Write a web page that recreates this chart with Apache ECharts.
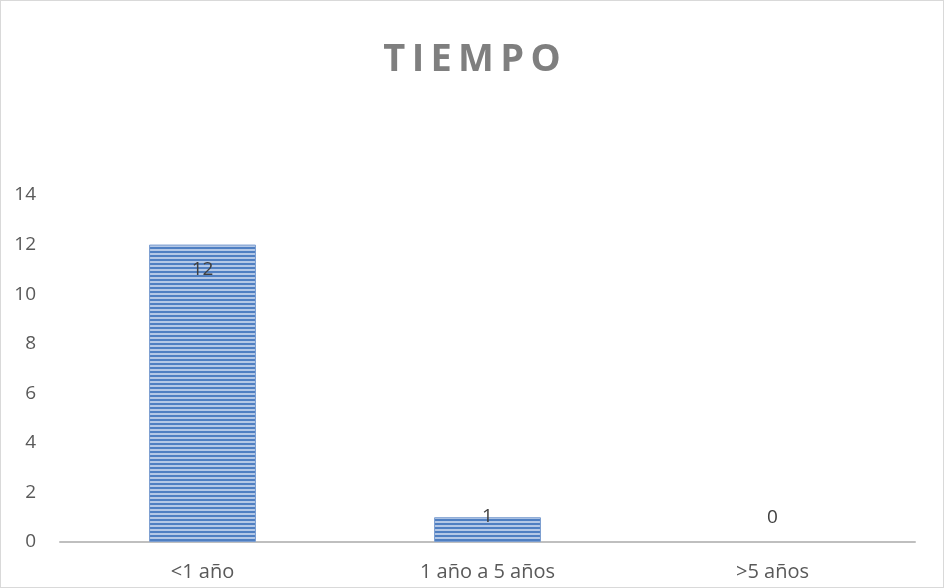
<!DOCTYPE html>
<html>
<head>
<meta charset="utf-8">
<script src="https://cdn.jsdelivr.net/npm/echarts@6/dist/echarts.min.js"></script>
<style>
  html, body { margin: 0; padding: 0; background: #fff; }
  #chart { width: 942px; height: 586px; border: 1px solid #d9d9d9; }
</style>
</head>
<body>
<div id="chart"></div>
<script>
const categories = ['<1 año', '1 año a 5 años', '>5 años']
const values = [12, 1, 0]
const yTicks = [0, 2, 4, 6, 8, 10, 12, 14]

// horizontal stripe fill like the Excel pattern
function stripes() {
  const c = document.createElement('canvas')
  c.width = 4
  c.height = 4
  const ctx = c.getContext('2d')
  ctx.fillStyle = '#b4c8e6'
  ctx.fillRect(0, 0, 4, 4)
  ctx.fillStyle = '#4f7fc2'
  ctx.fillRect(0, 2, 4, 2)
  return c
}

const labelTweaks = [
  { position: 'insideTop', distance: 16 },
  { position: 'top', offset: [0, 14] },
  { position: 'top', offset: [0, -10] },
]

const font = 'Open Sans'
const chart = echarts.init(document.getElementById('chart'))
chart.setOption({
  animation: false,
  title: {
    text: 'T\u2009I\u2009E\u2009M\u2009P\u2009O',
    left: 'center',
    top: 35,
    textStyle: { fontFamily: font, fontSize: 38, fontWeight: 'bold', color: '#7f7f7f' },
  },
  grid: { left: 59, right: 28, top: 194, bottom: 45 },
  xAxis: {
    type: 'category',
    data: categories,
    axisLine: { lineStyle: { color: '#bfbfbf', width: 2 } },
    axisTick: { show: false },
    axisLabel: { fontFamily: font, fontSize: 20, color: '#595959', margin: 20 },
  },
  yAxis: {
    type: 'value',
    min: 0,
    max: yTicks[yTicks.length - 1],
    interval: 2,
    splitLine: { show: false },
    axisLine: { show: false },
    axisTick: { show: false },
    axisLabel: { fontFamily: font, fontSize: 19, color: '#595959', margin: 24 },
  },
  series: [
    {
      type: 'bar',
      barWidth: '37.5%',
      itemStyle: {
        color: { image: stripes(), repeat: 'repeat' },
        borderColor: '#7a9dd0',
        borderWidth: 1,
      },
      label: { show: true, fontFamily: font, fontSize: 19, color: '#404040' },
      data: values.map((v, i) => ({
        value: v,
        label: labelTweaks[i],
        itemStyle: v === 0 ? { borderWidth: 0 } : undefined,
      })),
    },
  ],
})
</script>
</body>
</html>
